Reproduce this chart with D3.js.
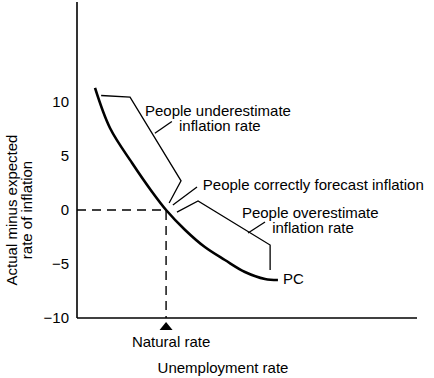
<!DOCTYPE html>
<html><head><meta charset="utf-8">
<script src="https://cdn.jsdelivr.net/npm/d3@7"></script>
<style>body{margin:0;background:#fff}svg{display:block}text{font-family:"Liberation Sans",Arial,sans-serif;fill:#000}</style>
</head><body><svg id="c" width="434" height="378"></svg>
<script>
// Data (unemployment rate in arbitrary units, actual minus expected inflation)
const yTicks = [-10, -5, 0, 5, 10];
const naturalRate = 2.62;
const pcCurve = [
  [0.53, 11.30], [0.97, 7.59], [1.62, 4.35], [2.21, 1.67], [2.62, 0],
  [3.18, -1.85], [3.76, -3.43], [4.35, -4.63], [4.94, -5.74], [5.53, -6.39], [5.91, -6.48]
];
const underBracket = [[0.71, 10.6], [1.56, 10.45], [3.06, 2.7], [2.71, 0.65]];
const underLeader = [[2.29, 7.1], [2.79, 8.2]];
const correctLeader = [[2.82, 0.46], [3.53, 2.13]];
const overBracket = [[2.94, -0.19], [3.56, 0.83], [5.68, -3.24], [5.68, -5.56]];
const overLeader = [[5.03, -2.13], [5.53, -1.11]];
const labels = [
  {t: "People underestimate", u: 2.0, v: 8.75},
  {t: "inflation rate", u: 3.0, v: 7.32},
  {t: "People correctly forecast inflation", u: 3.7, v: 1.85},
  {t: "People overestimate", u: 4.85, v: -0.70},
  {t: "inflation rate", u: 5.74, v: -2.13},
  {t: "PC", u: 6.06, v: -6.85}
];
const yTitle = ["Actual minus expected", "rate of inflation"];
const xTitle = "Unemployment rate";
const naturalLabel = "Natural rate";

const FS = 15;
const svg = d3.select("#c");
const x = d3.scaleLinear().domain([0, 10]).range([77, 417]);
const y = d3.scaleLinear().domain([-10, 10]).range([318, 102]);
const line = d3.line().x(d => x(d[0])).y(d => y(d[1]));

// axes
svg.append("line").attr("x1", x(0)).attr("x2", x(0)).attr("y1", 2).attr("y2", y(-10))
  .attr("stroke", "#000").attr("stroke-width", 1.6);
svg.append("line").attr("x1", x(0)).attr("x2", x(10)).attr("y1", y(-10)).attr("y2", y(-10))
  .attr("stroke", "#000").attr("stroke-width", 1.6);
const yAxis = svg.append("g").attr("transform", `translate(${x(0)},0)`)
  .call(d3.axisLeft(y).tickValues(yTicks).tickSize(0).tickPadding(8)
    .tickFormat(d => d < 0 ? "\u2212" + Math.abs(d) : d));
yAxis.select(".domain").remove();
yAxis.selectAll("text").attr("font-size", FS).attr("font-family", "Liberation Sans, Arial, sans-serif");

// dashed natural-rate guides
svg.append("path").attr("d", line([[0, 0], [naturalRate, 0], [naturalRate, -10]]))
  .attr("fill", "none").attr("stroke", "#000").attr("stroke-width", 1.4).attr("stroke-dasharray", "9,6");

// triangle marker
const tx = x(naturalRate), ty = y(-10);
svg.append("path").attr("d", `M${tx},${ty + 4}L${tx - 6.5},${ty + 12}L${tx + 6.5},${ty + 12}Z`).attr("fill", "#000");

// curve
svg.append("path").attr("d", d3.line().x(d => x(d[0])).y(d => y(d[1])).curve(d3.curveCatmullRom.alpha(0.5))(pcCurve))
  .attr("fill", "none").attr("stroke", "#000").attr("stroke-width", 2.6);

[underBracket, underLeader, correctLeader, overBracket, overLeader].forEach(p => {
  svg.append("path").attr("d", line(p)).attr("fill", "none").attr("stroke", "#000").attr("stroke-width", 1.3);
});

labels.forEach(l => {
  svg.append("text").attr("x", x(l.u)).attr("y", y(l.v))
    .attr("font-size", FS).text(l.t);
});

svg.append("text").attr("x", tx + 5).attr("y", 342).attr("dy", "0.35em").attr("text-anchor", "middle")
  .attr("font-size", FS).text(naturalLabel);
svg.append("text").attr("x", 223).attr("y", 368).attr("dy", "0.35em").attr("text-anchor", "middle")
  .attr("font-size", FS).text(xTitle);
yTitle.forEach((t, i) => {
  svg.append("text").attr("transform", `translate(${12 + i * 15},210) rotate(-90)`)
    .attr("dy", "0.35em").attr("text-anchor", "middle").attr("font-size", FS).text(t);
});
</script></body></html>
